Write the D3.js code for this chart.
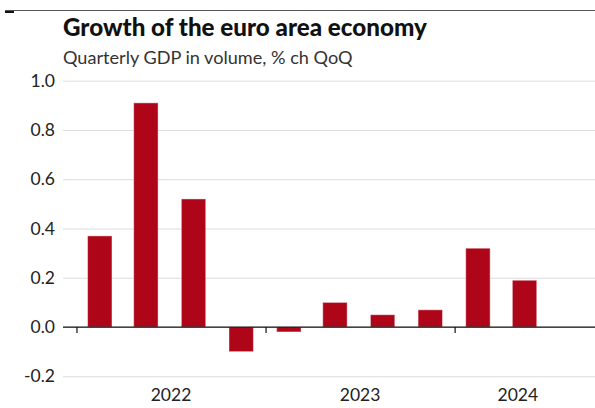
<!DOCTYPE html>
<html>
<head>
<meta charset="utf-8">
<script src="https://cdn.jsdelivr.net/npm/d3@7"></script>
<style>
  html, body { margin: 0; padding: 0; background: #fff; }
  svg { display: block; }
  text { font-family: "Lato", "Open Sans", sans-serif; fill: #222; }
</style>
</head>
<body>
<svg id="chart" width="595" height="408"></svg>
<script>
// Quarterly GDP growth, euro area (% change on previous quarter)
const quarters = ["2022-Q1","2022-Q2","2022-Q3","2022-Q4","2023-Q1","2023-Q2","2023-Q3","2023-Q4","2024-Q1","2024-Q2"];
const growth   = [0.37, 0.91, 0.52, -0.10, -0.02, 0.10, 0.05, 0.07, 0.32, 0.19];
const yTicks   = [-0.2, 0, 0.2, 0.4, 0.6, 0.8, 1.0];
const yearLabels = ["2022", "2023", "2024"];

const title = "Growth of the euro area economy";
const subtitle = "Quarterly GDP in volume, % ch QoQ";

const svg = d3.select("#chart");
const W = 595, H = 408;
const plot = { left: 63, right: 595, top: 80.7, bottom: 376.3 };

// quarter label -> mid-quarter date
function midQuarter(q) {
  const [y, qq] = q.split("-Q").map(Number);
  return new Date(y, (qq - 1) * 3 + 1, 15);
}
const data = quarters.map((q, i) => ({ q, date: midQuarter(q), value: growth[i] }));

const x = d3.scaleTime()
  .domain([new Date(2021, 11, 6), new Date(2024, 8, 28)])
  .range([plot.left, plot.right]);

const y = d3.scaleLinear()
  .domain([-0.2, 1.0])
  .range([plot.bottom, plot.top]);

// header: rule and marker above the title
svg.append("line")
  .attr("x1", 5).attr("x2", W).attr("y1", 10.5).attr("y2", 10.5)
  .attr("stroke", "#555").attr("stroke-width", 1);
svg.append("rect")
  .attr("x", 5).attr("y", 11).attr("width", 9).attr("height", 2)
  .attr("fill", "#111");

function fitText(sel, targetWidth) {
  const node = sel.node();
  const size = parseFloat(sel.attr("font-size"));
  const w = node.getComputedTextLength();
  sel.attr("font-size", (size * targetWidth / w).toFixed(2));
}

const t = svg.append("text")
  .attr("x", plot.left).attr("y", 36)
  .attr("font-size", 24).attr("font-weight", 900)
  .style("fill", "#111")
  .text(title);
fitText(t, 364);

const st = svg.append("text")
  .attr("x", plot.left).attr("y", 63.5)
  .attr("font-size", 18)
  .style("fill", "#333")
  .text(subtitle);
fitText(st, 290);

// y gridlines and labels
const fmt = v => d3.format(".1f")(v).replace("\u2212", "-");
const yAxis = d3.axisLeft(y)
  .tickValues(yTicks)
  .tickSize(-(plot.right - plot.left))
  .tickPadding(8)
  .tickFormat(fmt);

const gy = svg.append("g")
  .attr("transform", `translate(${plot.left},0)`)
  .call(yAxis);
gy.select(".domain").remove();
gy.selectAll(".tick line").attr("stroke", "#dcdcdc").attr("stroke-width", 1);
gy.selectAll(".tick text")
  .attr("font-size", 17.5)
  .style("font-family", "Lato, sans-serif")
  .style("fill", "#222");

// bars
svg.append("g")
  .selectAll("rect")
  .data(data)
  .join("rect")
  .attr("x", d => x(d.date) - 12.2)
  .attr("width", 24.4)
  .attr("y", d => y(Math.max(0, d.value)))
  .attr("height", d => Math.abs(y(d.value) - y(0)))
  .attr("fill", "#ae0519")
  .attr("stroke", "rgba(255,255,255,0.45)")
  .attr("stroke-width", 1);

// zero baseline with yearly ticks
const years = yearLabels.map(s => new Date(+s, 0, 1));
const xAxis = d3.axisBottom(x)
  .tickValues(years)
  .tickSize(6)
  .tickFormat("");
const gx = svg.append("g")
  .attr("transform", `translate(0,${y(0)})`)
  .call(xAxis);
gx.select(".domain")
  .attr("d", `M${plot.left},0H${plot.right}`)
  .attr("stroke", "#111").attr("stroke-width", 1.3);
gx.selectAll(".tick line").attr("stroke", "#111").attr("stroke-width", 1.2);

// year labels centred on the span each year covers
const labelEnd = new Date(2024, 8, 1);
svg.append("g")
  .selectAll("text")
  .data(yearLabels)
  .join("text")
  .attr("x", s => {
    const a = new Date(+s, 0, 1);
    const b = d3.min([new Date(+s + 1, 0, 1), labelEnd]);
    return (x(a) + x(b)) / 2;
  })
  .attr("y", 401)
  .attr("text-anchor", "middle")
  .attr("font-size", 17.5)
  .style("fill", "#222")
  .text(s => s);
</script>
</body>
</html>
